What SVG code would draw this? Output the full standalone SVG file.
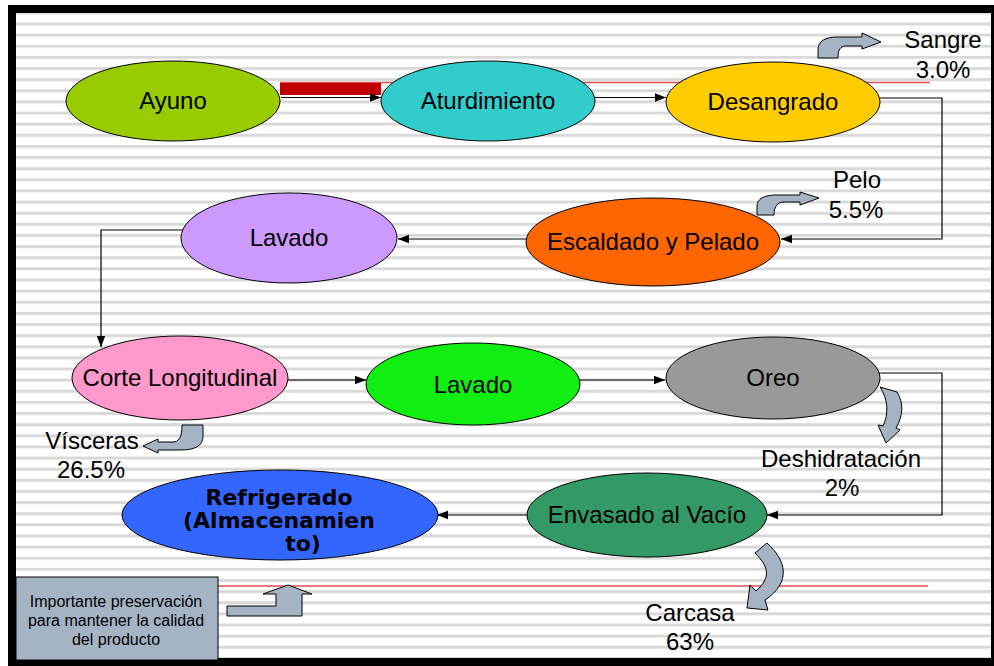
<svg xmlns="http://www.w3.org/2000/svg" width="994" height="666" viewBox="0 0 994 666">
<style>
.node{stroke:#000;stroke-width:1}
.t{font-family:"Liberation Sans",Arial,sans-serif;font-size:24px;fill:#000;text-anchor:middle}
.b{font-family:"DejaVu Sans",Verdana,sans-serif;font-size:22px;font-weight:bold;fill:#000;text-anchor:middle}
.s{font-family:"Liberation Sans",Arial,sans-serif;font-size:16px;fill:#000;text-anchor:middle}
.c{fill:none;stroke:#000;stroke-width:1.2}
.ba{fill:#a5b4c4;stroke:#000;stroke-width:1}
</style>
<defs>
<pattern id="st" patternUnits="userSpaceOnUse" x="0" y="22.5" width="994" height="11.13">
<rect x="0" y="0" width="994" height="3" fill="#d9d9d9"/>
</pattern>
<marker id="ah" markerWidth="12" markerHeight="10" refX="11" refY="5" orient="auto" markerUnits="userSpaceOnUse">
<path d="M0,0.8 L11,5 L0,9.2 Z" fill="#000"/>
</marker>
</defs>
<g id="background">
<rect x="8" y="5" width="986" height="661" fill="#000"/>
<rect x="16" y="13" width="975" height="645" fill="#fff"/>
<rect x="16" y="13" width="975" height="645" fill="url(#st)"/>
<line x1="280" y1="82.5" x2="930" y2="82.5" stroke="#e05050" stroke-width="1.5"/>
<line x1="218" y1="586" x2="928" y2="586" stroke="#e05050" stroke-width="1.5"/>
<rect x="280" y="83" width="101" height="12" fill="#c00000"/>
</g>
<g id="connectors">
<line class="c" x1="281" y1="97.5" x2="381" y2="97.5" marker-end="url(#ah)"/>
<line class="c" x1="595" y1="97.5" x2="666" y2="97.5" marker-end="url(#ah)"/>
<polyline class="c" points="880,98 942,98 942,239 781,239" marker-end="url(#ah)"/>
<line class="c" x1="527" y1="239" x2="398" y2="239" marker-end="url(#ah)"/>
<polyline class="c" points="183,230 101,230 101,347" marker-end="url(#ah)"/>
<line class="c" x1="288" y1="380" x2="366" y2="380" marker-end="url(#ah)"/>
<line class="c" x1="580" y1="380" x2="665" y2="380" marker-end="url(#ah)"/>
<polyline class="c" points="876,373 942,373 942,515 767,515" marker-end="url(#ah)"/>
<line class="c" x1="527" y1="515" x2="437" y2="515" marker-end="url(#ah)"/>
</g>
<g id="node-ayuno">
<ellipse class="node" cx="173" cy="101" rx="107" ry="40" fill="#99cc00"/>
<text class="t" x="173" y="109">Ayuno</text>
</g>
<g id="node-aturdimiento">
<ellipse class="node" cx="488" cy="101" rx="107" ry="40" fill="#33cccc"/>
<text class="t" x="488" y="109">Aturdimiento</text>
</g>
<g id="node-desangrado">
<ellipse class="node" cx="773" cy="102" rx="107" ry="40" fill="#ffcc00"/>
<text class="t" x="773" y="110">Desangrado</text>
</g>
<g id="node-escaldado">
<ellipse class="node" cx="653" cy="242" rx="127" ry="44" fill="#ff6600"/>
<text class="t" x="653" y="250">Escaldado y Pelado</text>
</g>
<g id="node-lavado1">
<ellipse class="node" cx="289" cy="238" rx="108" ry="45" fill="#cc99ff"/>
<text class="t" x="289" y="246">Lavado</text>
</g>
<g id="node-corte">
<ellipse class="node" cx="180" cy="378" rx="108" ry="42" fill="#ff99cc"/>
<text class="t" x="180" y="386">Corte Longitudinal</text>
</g>
<g id="node-lavado2">
<ellipse class="node" cx="473" cy="384" rx="107" ry="41" fill="#11ee11"/>
<text class="t" x="473" y="393">Lavado</text>
</g>
<g id="node-oreo">
<ellipse class="node" cx="773" cy="378" rx="107" ry="41" fill="#999999"/>
<text class="t" x="773" y="386">Oreo</text>
</g>
<g id="node-envasado">
<ellipse class="node" cx="647" cy="515" rx="120" ry="42" fill="#339966"/>
<text class="t" x="647" y="523">Envasado al Vacío</text>
</g>
<g id="node-refrigerado">
<ellipse class="node" cx="280" cy="515" rx="158" ry="45" fill="#3366ff"/>
<text class="b" x="279" y="505">Refrigerado</text>
<text class="b" x="279" y="528">(Almacenamien</text>
<text class="b" x="303" y="551">to)</text>
</g>
<g id="output-sangre">
<path class="ba" d="M818,58 L818,50 C818,41 825,37 838,37 L862,37 L862,33 L881,42 L862,49 L862,46 L846,46 C840,46 838,50 838,58 Z"/>
<text class="t" x="943" y="48">Sangre</text>
<text class="t" x="943" y="78">3.0%</text>
</g>
<g id="output-pelo">
<path class="ba" d="M757,215 L757,206 C757,199 764,195 776,195 L800,195 L800,192 L819,198 L800,205 L800,202 L784,202 C778,202 774,206 774,215 Z"/>
<text class="t" x="857" y="188">Pelo</text>
<text class="t" x="856" y="218">5.5%</text>
</g>
<g id="output-visceras">
<path class="ba" d="M203,425 L203,436 C203,446 195,450 180,450 L158,450 L158,453 L143,446 L158,439 L158,442 L172,442 C179,442 182,438 182,425 Z"/>
<text class="t" x="92" y="449">Vísceras</text>
<text class="t" x="91" y="478">26.5%</text>
</g>
<g id="output-deshidratacion">
<path class="ba" d="M880,387 L897,392 C904,403 903,416 896,428 L900,430 L886,443 L878,425 L883,426 C889,414 888,399 880,387 Z"/>
<text class="t" x="841" y="467">Deshidratación</text>
<text class="t" x="842" y="496">2%</text>
</g>
<g id="output-carcasa">
<path class="ba" d="M755,553 L767,543 C786,560 792,582 765,600 L768,610 L747,608 L750,585 L756,591 C772,577 768,566 755,553 Z"/>
<text class="t" x="690" y="621">Carcasa</text>
<text class="t" x="690" y="650">63%</text>
</g>
<g id="note">
<rect x="16" y="577" width="202" height="83" fill="#a5b4c4" stroke="#000" stroke-width="1"/>
<text class="s" x="116" y="607">Importante preservación</text>
<text class="s" x="116" y="626">para mantener la calidad</text>
<text class="s" x="116" y="645">del producto</text>
<path class="ba" d="M227,606 L276,606 L276,594 L263,594 L288,585 L312,594 L302,594 L302,616 L227,616 Z"/>
</g>
</svg>
